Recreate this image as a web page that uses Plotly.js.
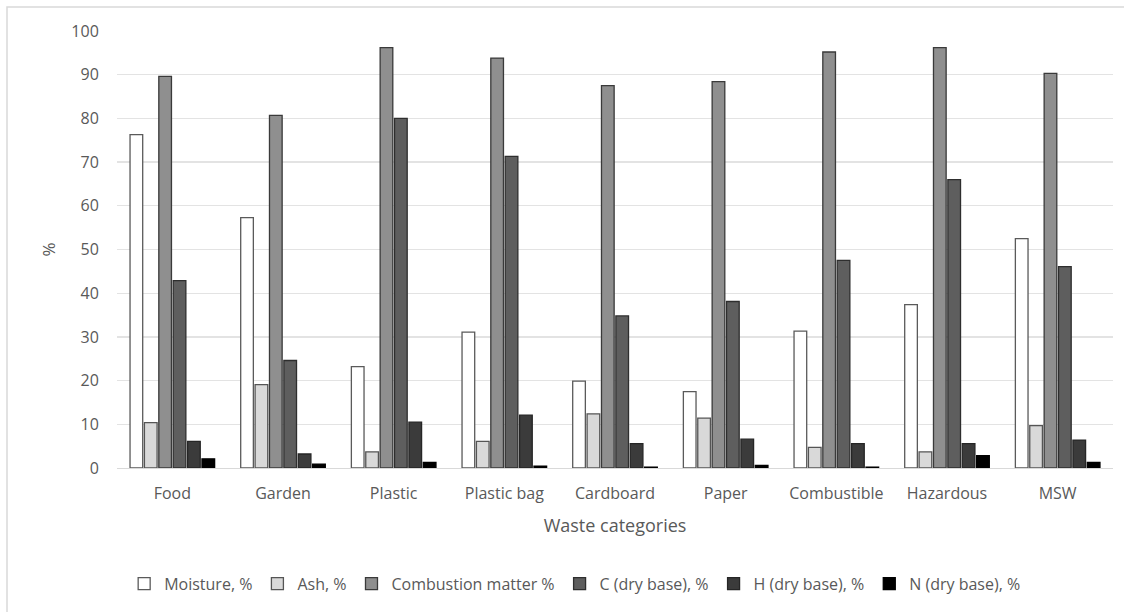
<!DOCTYPE html>
<html>
<head>
<meta charset="utf-8">
<script src="https://cdn.plot.ly/plotly-3.0.1.min.js"></script>
<style>
html,body{margin:0;padding:0;background:#fff;}
#chart{width:1124px;height:612px;}
</style>
</head>
<body>
<div id="chart"></div>
<script>
var categories = ["Food","Garden","Plastic","Plastic bag","Cardboard","Paper","Combustible","Hazardous","MSW"];
var seriesNames = ["Moisture, %","Ash, %","Combustion matter %","C (dry base), %","H (dry base), %","N (dry base), %"];
var moisture   = [76.3, 57.3, 23.2, 31.1, 19.9, 17.5, 31.3, 37.4, 52.5];
var ash        = [10.4, 19.1, 3.7, 6.1, 12.4, 11.4, 4.7, 3.7, 9.7];
var combustion = [89.6, 80.7, 96.2, 93.8, 87.5, 88.4, 95.2, 96.2, 90.3];
var carbon     = [42.9, 24.6, 80.0, 71.3, 34.8, 38.1, 47.5, 66.0, 46.1];
var hydrogen   = [6.1, 3.2, 10.5, 12.1, 5.6, 6.6, 5.6, 5.6, 6.4];
var nitrogen   = [2.1, 0.9, 1.3, 0.4, 0.2, 0.6, 0.2, 2.8, 1.3];
var yTicks = [0,10,20,30,40,50,60,70,80,90,100];

var values = [moisture, ash, combustion, carbon, hydrogen, nitrogen];
var fills = ["#ffffff","#d9d9d9","#8f8f8f","#5e5e5e","#3b3b3b","#000000"];
var lines = ["#5a5a5a","#555555","#3a3a3a","#2e2e2e","#262626","#000000"];

var traces = values.map(function(v,i){
  return {
    type:'bar', name: seriesNames[i], x: categories, y: v,
    marker:{color: fills[i], line:{color: lines[i], width:1.3}},
    hoverinfo:'x+y+name'
  };
});

var txt = '#595959';
var layout = {
  width:1124, height:612,
  font:{family:'"Open Sans", "Noto Sans", sans-serif', color:txt, size:15},
  paper_bgcolor:'#ffffff', plot_bgcolor:'#ffffff',
  margin:{l:117, r:11, t:31, b:144},
  barmode:'group', bargap:0.22, bargroupgap:0.12,
  showlegend:true,
  legend:{orientation:'h', x:0.46, xanchor:'center', y:-0.265, yanchor:'middle',
          font:{size:16, color:txt}, traceorder:'normal', itemwidth:30},
  xaxis:{
    type:'category', showgrid:false, zeroline:false,
    showline:true, linecolor:'#d9d9d9', linewidth:1.3,
    ticks:'outside', ticklen:10, tickcolor:'rgba(0,0,0,0)',
    tickfont:{size:16, color:txt},
    title:{text:'Waste categories', font:{size:18, color:txt}, standoff:17}
  },
  yaxis:{
    range:[0,100], tickvals:yTicks, showgrid:true, gridcolor:'#e3e3e3', gridwidth:1.3,
    zeroline:false, showline:false,
    ticks:'outside', ticklen:14, tickcolor:'rgba(0,0,0,0)',
    tickfont:{size:16, color:txt},
    title:{text:'%', font:{size:17, color:txt}, standoff:11}
  },
  shapes:[{
    type:'rect', xref:'paper', yref:'paper',
    x0:(7-117)/996, x1:(1130-117)/996, y0:(468-620)/437, y1:(468-7)/437,
    line:{color:'#d9d9d9', width:1.5}, fillcolor:'rgba(0,0,0,0)', layer:'below'
  }]
};

Plotly.newPlot('chart', traces, layout, {displayModeBar:false, staticPlot:true});
</script>
</body>
</html>
